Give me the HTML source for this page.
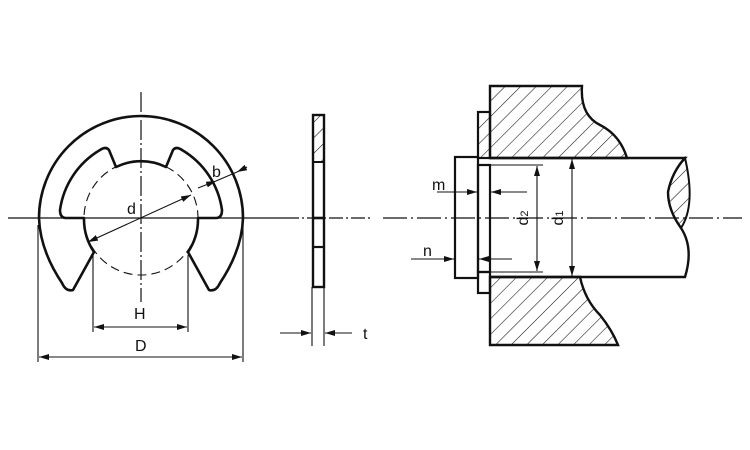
<!DOCTYPE html>
<html><head><meta charset="utf-8"><style>html,body{margin:0;padding:0;background:#fff}svg{display:block}</style></head><body>
<svg width="750" height="450" viewBox="0 0 750 450" xmlns="http://www.w3.org/2000/svg" font-family="Liberation Sans, sans-serif">
<defs>
<pattern id="h" width="11" height="11" patternUnits="userSpaceOnUse" patternTransform="rotate(45)">
<line x1="0" y1="0" x2="0" y2="11" stroke="#111" stroke-width="1.1"/>
</pattern>
<marker id="a" viewBox="0 0 10 6" refX="10" refY="3" markerWidth="10" markerHeight="6" orient="auto-start-reverse" markerUnits="userSpaceOnUse"><path d="M0,0 L10,3 L0,6z" fill="#111"/></marker>
</defs>
<g stroke="#111" fill="none">
<!-- centerlines -->
<line x1="8" y1="218" x2="285" y2="218" stroke-width="1.2"/>
<line x1="285" y1="218" x2="372" y2="218" stroke-width="1.2" stroke-dasharray="14,3,2,3"/>
<line x1="383" y1="218" x2="742" y2="218" stroke-width="1.2" stroke-dasharray="24,4,2,4"/>
<line x1="141" y1="92" x2="141" y2="302" stroke-width="1.2" stroke-dasharray="20,3,2,3"/>

<!-- E ring front -->
<path d="M73,290 Q66,292 62,283 Q40,250 39,218 A102,102 0 1 1 243,218 Q242,250 220,283 Q216,292 209,290 L188,252 A59,59 0 0 0 198,218 L216,218 Q222,218 222,210 A83,83 0 0 0 182,150 Q176,146 173,150 L166,167 A57,57 0 0 0 116,167 L109,150 Q106,146 100,150 A83,83 0 0 0 60,210 Q60,218 66,218 L84,218 A59,59 0 0 0 94,252 Z" stroke-width="2.6" stroke-linejoin="round"/>
<circle cx="141" cy="218" r="57" stroke-width="1.1" stroke-dasharray="9,5"/>
<!-- d arrow -->
<line x1="88" y1="242" x2="191" y2="195" stroke-width="1.1" marker-start="url(#a)" marker-end="url(#a)"/>
<!-- b -->
<line x1="198" y1="188" x2="216" y2="181" stroke-width="1.1" marker-end="url(#a)"/>
<line x1="247" y1="167" x2="237" y2="172" stroke-width="1.1" marker-end="url(#a)"/>
<line x1="216" y1="181" x2="237" y2="172" stroke-width="1.1"/>
<!-- H / D -->
<line x1="93" y1="255" x2="93" y2="332" stroke-width="1.1"/>
<line x1="188" y1="255" x2="188" y2="332" stroke-width="1.1"/>
<line x1="94" y1="327" x2="187" y2="327" stroke-width="1.1" marker-start="url(#a)" marker-end="url(#a)"/>
<line x1="38" y1="225" x2="38" y2="362" stroke-width="1.1"/>
<line x1="243" y1="225" x2="243" y2="362" stroke-width="1.1"/>
<line x1="39" y1="357" x2="242" y2="357" stroke-width="1.1" marker-start="url(#a)" marker-end="url(#a)"/>

<!-- side view -->
<rect x="313" y="115" width="11" height="47" fill="url(#h)" stroke="none"/>
<rect x="313" y="115" width="11" height="172" stroke-width="2.4"/>
<line x1="313" y1="162" x2="324" y2="162" stroke-width="2"/>
<line x1="313" y1="218" x2="324" y2="218" stroke-width="2.6"/>
<line x1="313" y1="247" x2="324" y2="247" stroke-width="2.2"/>
<line x1="312" y1="287" x2="312" y2="346" stroke-width="1.1"/>
<line x1="324" y1="287" x2="324" y2="346" stroke-width="1.1"/>
<line x1="280" y1="333" x2="311" y2="333" stroke-width="1.1" marker-end="url(#a)"/>
<line x1="352" y1="333" x2="325" y2="333" stroke-width="1.1" marker-end="url(#a)"/>

<!-- section view -->
<path d="M490,86 L582,86 Q580,115 600,125 Q620,135 627,158 L490,158 Z" fill="url(#h)" stroke-width="2.4"/>
<path d="M490,277 L580,277 Q585,300 600,315 Q612,330 618,345 L490,345 Z" fill="url(#h)" stroke-width="2.4"/>
<path d="M490,158 L685,158 Q672,172 668,192 Q668,210 681,228 Q694,248 685,277 L490,277" stroke-width="2.4"/>
<path d="M685,158 Q672,172 668,192 Q668,210 681,228 Q696,205 685,158 Z" fill="url(#h)" stroke-width="2"/>
<rect x="478" y="112" width="12" height="46" fill="url(#h)" stroke-width="2.2"/>
<rect x="478" y="165" width="12" height="107" stroke-width="2.2"/>
<rect x="478" y="272" width="12" height="21" stroke-width="2.2"/>
<rect x="455" y="157" width="23" height="121" stroke-width="2.2"/>
<line x1="490" y1="165" x2="543" y2="165" stroke-width="1.1"/>
<line x1="490" y1="272" x2="543" y2="272" stroke-width="1.1"/>
<line x1="537" y1="166" x2="537" y2="271" stroke-width="1.1" marker-start="url(#a)" marker-end="url(#a)"/>
<line x1="572" y1="159" x2="572" y2="276" stroke-width="1.1" marker-start="url(#a)" marker-end="url(#a)"/>
<line x1="437" y1="192" x2="477" y2="192" stroke-width="1.1" marker-end="url(#a)"/>
<line x1="527" y1="192" x2="491" y2="192" stroke-width="1.1" marker-end="url(#a)"/>
<line x1="411" y1="259" x2="454" y2="259" stroke-width="1.1" marker-end="url(#a)"/>
<line x1="512" y1="259" x2="479" y2="259" stroke-width="1.1" marker-end="url(#a)"/>
</g>
<g fill="#111" font-size="16">
<text x="127" y="214">d</text>
<text x="212" y="177">b</text>
<text x="134" y="319">H</text>
<text x="135" y="351">D</text>
<text x="363" y="339">t</text>
<text x="432" y="190">m</text>
<text x="423" y="256">n</text>
<text transform="translate(528,218) rotate(-90)" text-anchor="middle">d<tspan font-size="11">2</tspan></text>
<text transform="translate(563,218) rotate(-90)" text-anchor="middle">d<tspan font-size="11">1</tspan></text>
</g>
</svg>
</body></html>
